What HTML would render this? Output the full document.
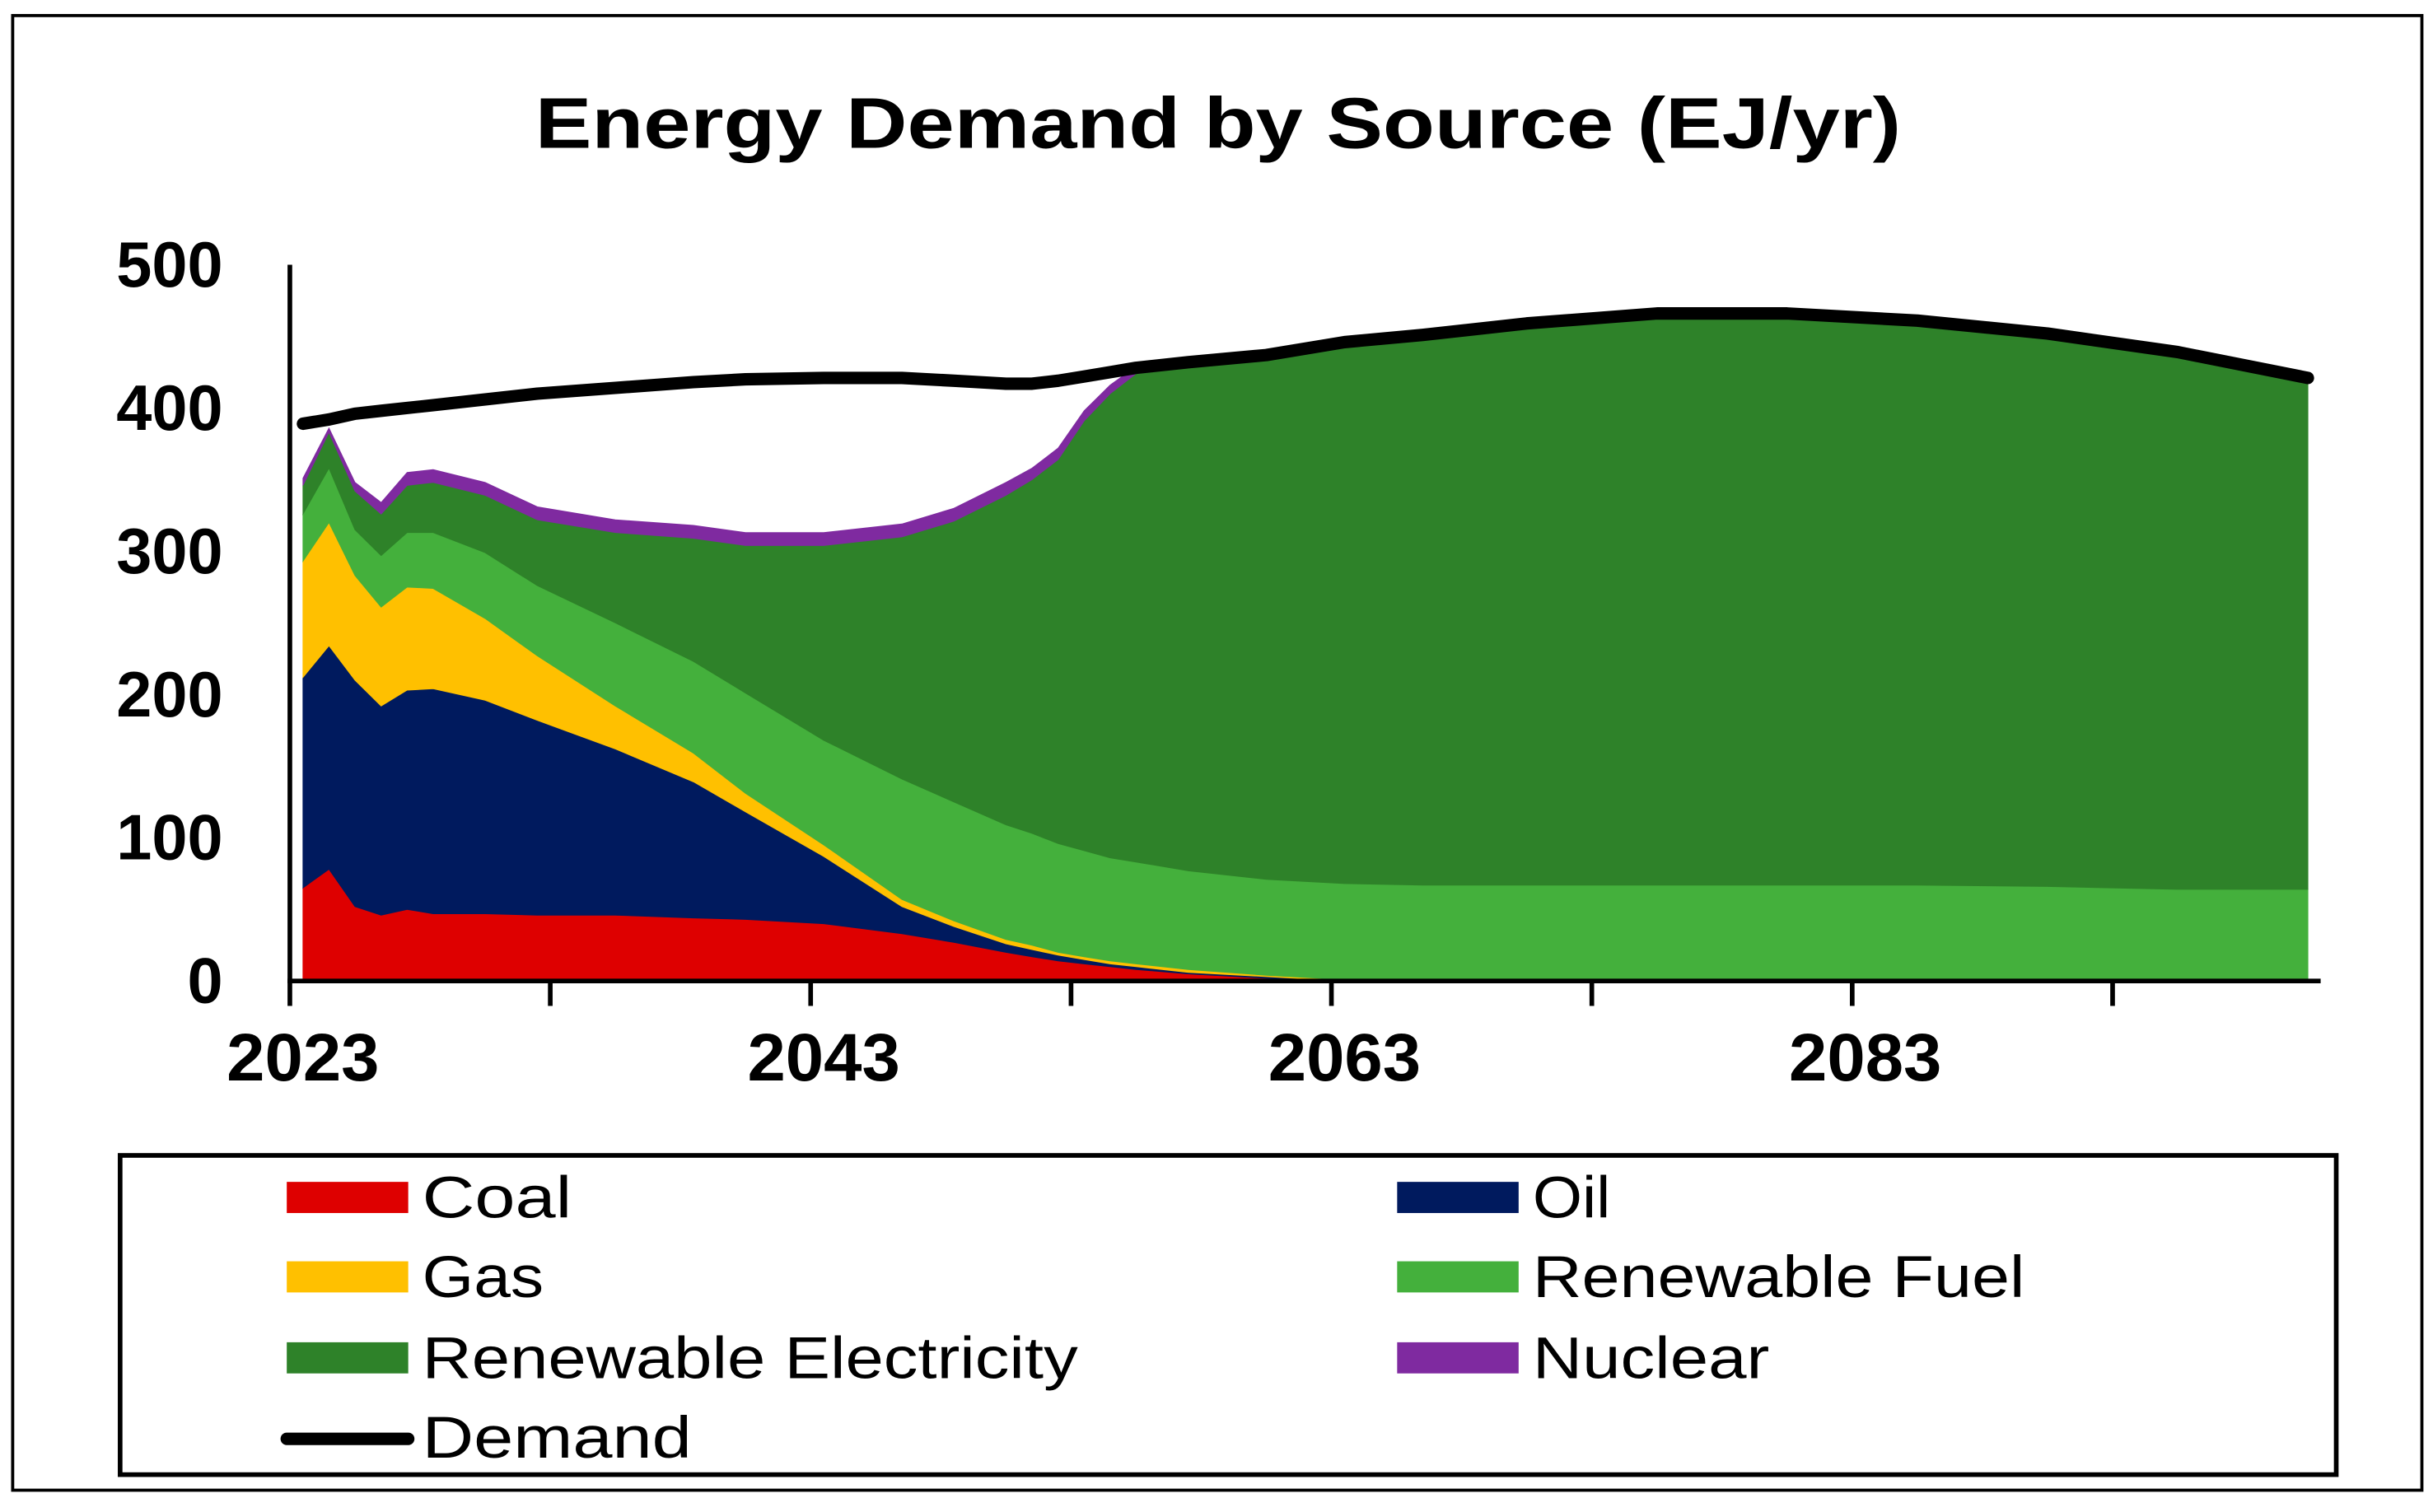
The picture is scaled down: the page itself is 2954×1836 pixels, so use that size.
<!DOCTYPE html>
<html><head><meta charset="utf-8"><style>
html,body{margin:0;padding:0;background:#fff;}
svg{display:block;font-family:"Liberation Sans",sans-serif;}
</style></head><body>
<svg id="chart" width="2954" height="1836" viewBox="0 0 1562 971" xmlns="http://www.w3.org/2000/svg">
<rect x="8" y="10" width="1547" height="947" fill="#fff" stroke="#000" stroke-width="2"/>
<text x="782" y="95" text-anchor="middle" font-size="46" font-weight="bold" textLength="877" lengthAdjust="spacingAndGlyphs">Energy Demand by Source (EJ/yr)</text>
<g id="areas"></g>
<g id="axes"></g>
<g>
<rect x="77" y="742" width="1423" height="205" fill="#fff" stroke="#000" stroke-width="3"/>
<g><rect x="184" y="759" width="78" height="20" fill="#de0000"/><text x="271" y="782" font-size="38" textLength="96" lengthAdjust="spacingAndGlyphs">Coal</text></g>
<g><rect x="897" y="759" width="78" height="20" fill="#001a5e"/><text x="984" y="782" font-size="38" textLength="50" lengthAdjust="spacingAndGlyphs">Oil</text></g>
<g><rect x="184" y="810" width="78" height="20" fill="#ffc000"/><text x="271" y="833" font-size="38" textLength="78" lengthAdjust="spacingAndGlyphs">Gas</text></g>
<g><rect x="897" y="810" width="78" height="20" fill="#44b03c"/><text x="984" y="833" font-size="38" textLength="316" lengthAdjust="spacingAndGlyphs">Renewable Fuel</text></g>
<g><rect x="184" y="862" width="78" height="20" fill="#2e8229"/><text x="271" y="885" font-size="38" textLength="421" lengthAdjust="spacingAndGlyphs">Renewable Electricity</text></g>
<g><rect x="897" y="862" width="78" height="20" fill="#7f2aa0"/><text x="984" y="885" font-size="38" textLength="152" lengthAdjust="spacingAndGlyphs">Nuclear</text></g>
<g><line x1="184" y1="924" x2="262" y2="924" stroke="#000" stroke-width="8" stroke-linecap="round"/><text x="271" y="936" font-size="38" textLength="173" lengthAdjust="spacingAndGlyphs">Demand</text></g>
</g>
</svg>
<script>
const years   = [2023,2024,2025,2026,2027,2028,2030,2032,2035,2038,2040,2043,2046,2048,2050,2051,2052,2053,2054,2055,2057,2060,2063,2066,2070,2075,2080,2085,2090,2095,2100];
const coal    = [65,78,52,46,50,47,47,46,46,44,43,40,33,27,20,17,14,12,10,8,5,2,0,0,0,0,0,0,0,0,0];
const oil     = [147,156,158,146,153,157,149,136,116,95,75,47,19,11,6,5,4,3,2,2,1,1,0,0,0,0,0,0,0,0,0];
const gas     = [81,86,73,69,72,70,57,45,30,20,13,8,5,4,3,3,2,2,2,2,2,1,1,0,0,0,0,0,0,0,0];
const renFuel = [33,38,32,36,38,39,46,49,58,64,70,73,84,83,80,78,76,74,72,71,69,67,67,67,67,67,67,67,66,64,64];
const renElec = [20,25,27,29,33,35,40,46,63,86,103,136,169,196,230,247,268,300,324,341,351,362,375,384,392,398,399,394,385,373,357];
const nuclear = [5,3,6,8,9,9,9,9,9,9,9,9,9,9,9,8,8,7,6,5,4,4,3,3,2,1,1,1,1,1,1];
const demand  = [389,392,396,398,400,402,406,410,414,418,420,421,421,419,417,417,419,422,425,428,432,437,446,451,459,466,466,461,452,439,421];
const yTicks  = [0,100,200,300,400,500];
const xLabels = [2023,2043,2063,2083];

const NS="http://www.w3.org/2000/svg";
const X0=186, X1=1490, Y0=630;
function xs(yr){return 194.4+(yr-2023)*16.72;}
function ys(v){return Y0-0.92*v;}
function mk(tag,attrs,parent){const e=document.createElementNS(NS,tag);for(const k in attrs)e.setAttribute(k,attrs[k]);parent.appendChild(e);return e;}

const areas=document.getElementById('areas');
const series=[[coal,'#de0000','area-coal'],[oil,'#001a5e','area-oil'],[gas,'#ffc000','area-gas'],[renFuel,'#44b03c','area-renewable-fuel'],[renElec,'#2e8229','area-renewable-electricity'],[nuclear,'#7f2aa0','area-nuclear']];
let base=years.map(()=>0);
series.forEach(([vals,col,name])=>{
  const top=base.map((b,i)=>b+vals[i]);
  let d='';
  years.forEach((yr,i)=>{d+=(i?'L':'M')+xs(yr).toFixed(1)+','+ys(top[i]).toFixed(1);});
  for(let i=years.length-1;i>=0;i--)d+='L'+xs(years[i]).toFixed(1)+','+ys(base[i]).toFixed(1);
  d+='Z';
  const p=mk('path',{d:d,fill:col,stroke:col,'stroke-width':0.5},areas);
  
  
  base=top;
});
let dd='';
years.forEach((yr,i)=>{dd+=(i?'L':'M')+xs(yr).toFixed(1)+','+ys(demand[i]).toFixed(1);});
const dl=mk('path',{d:dd,fill:'none',stroke:'#000','stroke-width':8,'stroke-linecap':'round','stroke-linejoin':'round'},areas);



const axes=document.getElementById('axes');
const ya=mk('line',{x1:X0,y1:170,x2:X0,y2:Y0+1,stroke:'#000','stroke-width':3},axes);


const xa=mk('line',{x1:X0-1.5,y1:Y0,x2:X1,y2:Y0,stroke:'#000','stroke-width':3},axes);


for(let k=0;k<8;k++){
  const tx=X0+k*167.2;
  const t=mk('line',{x1:tx,y1:Y0,x2:tx,y2:Y0+16,stroke:'#000','stroke-width':3},axes);
  
  
}
yTicks.forEach(v=>{
  const t=mk('text',{x:143,y:ys(v)+14,'text-anchor':'end','font-size':41,'font-weight':'bold'},axes);
  t.textContent=String(v);
  
  
});
xLabels.forEach(yr=>{
  const t=mk('text',{x:xs(yr),y:694,'text-anchor':'middle','font-size':43,'font-weight':'bold',textLength:98,lengthAdjust:'spacingAndGlyphs'},axes);
  t.textContent=String(yr);
  
  
});
</script>
</body></html>
